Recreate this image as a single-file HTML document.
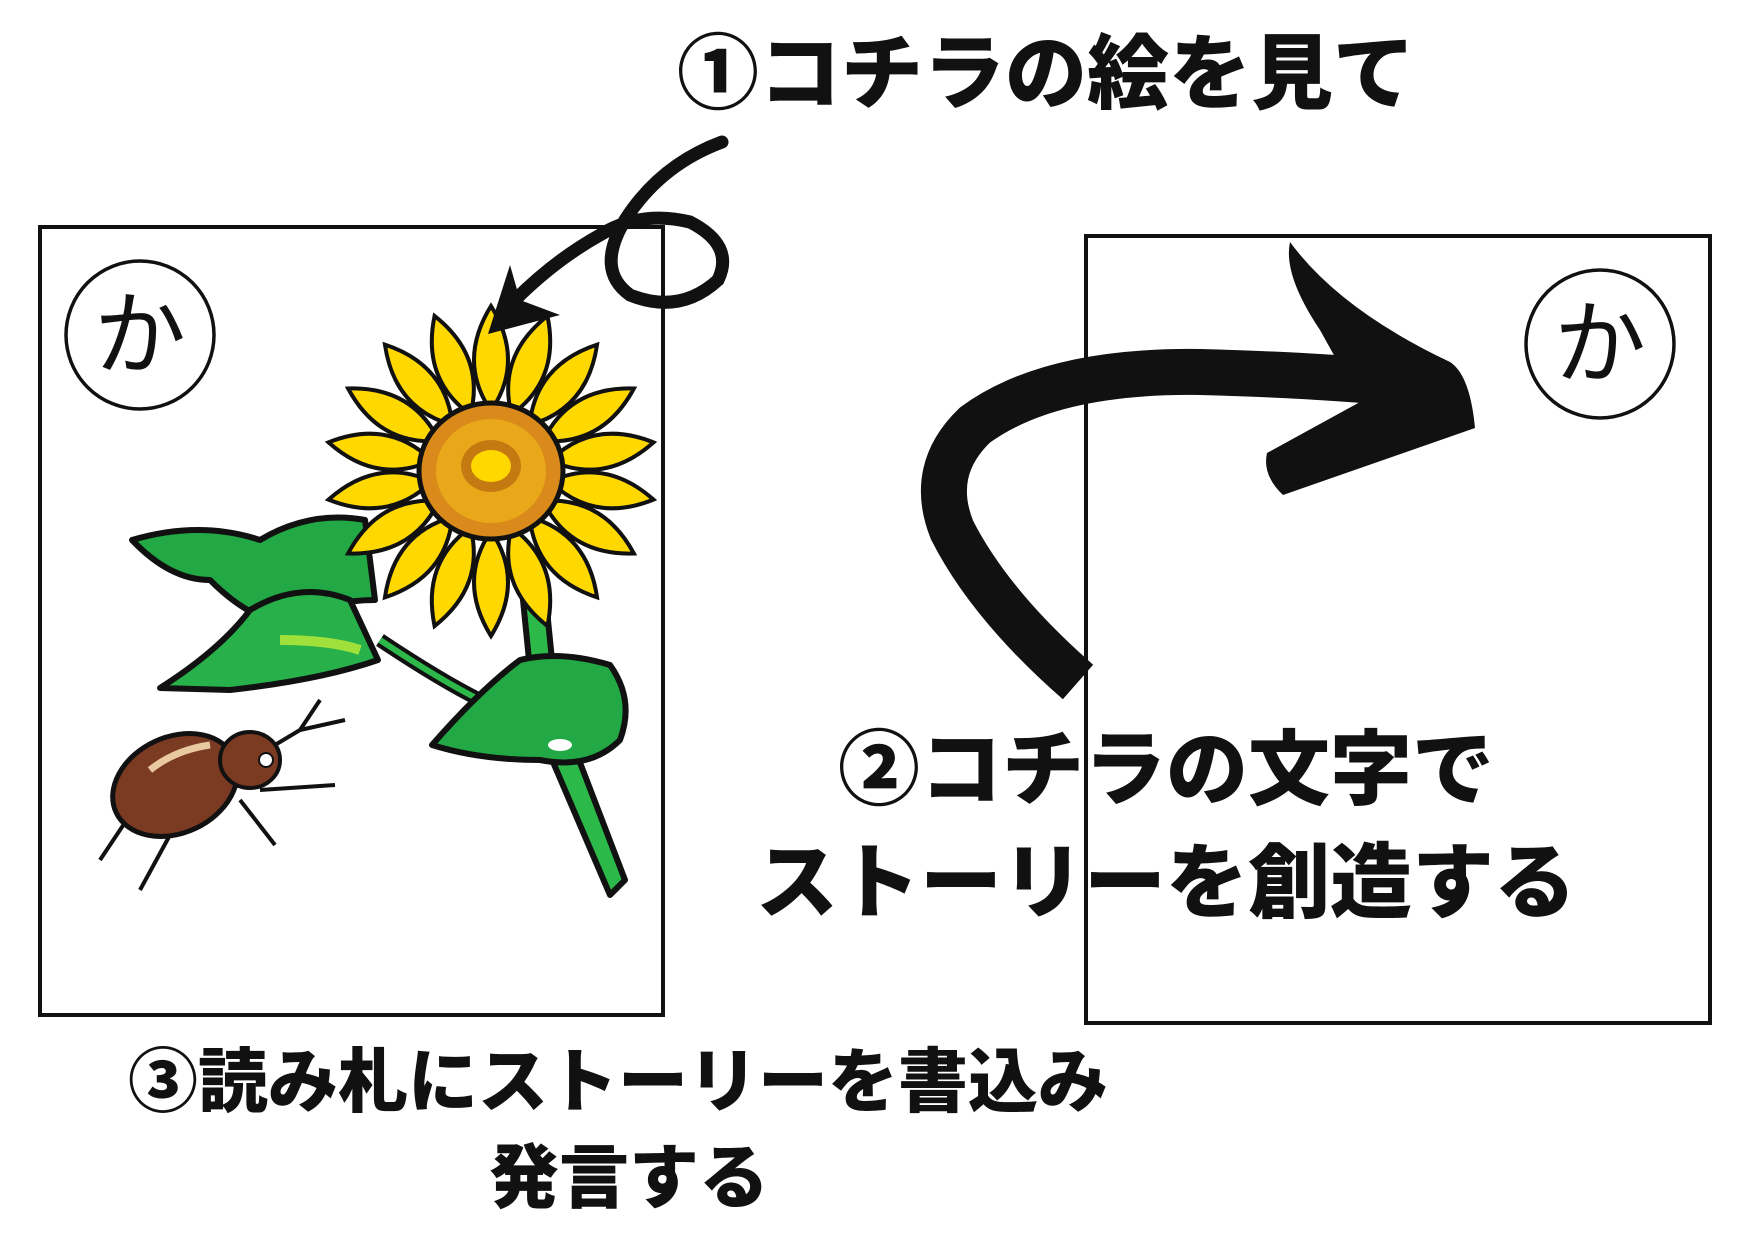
<!DOCTYPE html>
<html><head><meta charset="utf-8"><style>
html,body{margin:0;padding:0;background:#fff}
body{width:1748px;height:1240px;position:relative;overflow:hidden;font-family:"Liberation Sans","Noto Sans CJK JP",sans-serif}
.t{position:absolute;font-weight:900;white-space:nowrap;color:#111;line-height:1;font-family:"Liberation Sans","Noto Sans CJK JP","WenQuanYi Zen Hei",sans-serif}
</style></head><body>
<svg width="1748" height="1240" style="position:absolute;left:0;top:0">
<rect x="40" y="227" width="623" height="788" fill="none" stroke="#111" stroke-width="4"/>
<rect x="1086" y="236" width="624" height="787" fill="none" stroke="#111" stroke-width="4"/>
<circle cx="140" cy="335" r="74" fill="none" stroke="#111" stroke-width="3.5"/>
<circle cx="1600" cy="344" r="74" fill="none" stroke="#111" stroke-width="3.5"/>
<text x="140" y="367" font-size="92" text-anchor="middle" font-family="Liberation Sans, Noto Sans CJK JP, sans-serif" fill="#111">か</text>
<text x="1600" y="376" font-size="92" text-anchor="middle" font-family="Liberation Sans, Noto Sans CJK JP, sans-serif" fill="#111">か</text>
<path d="M522,590 L545,590 L556,700 L625,880 L610,895 L535,720 Z" fill="#2db84a" stroke="#111" stroke-width="6" stroke-linejoin="round"/>
<path d="M380,640 Q440,680 480,700" stroke="#111" stroke-width="14" fill="none"/>
<path d="M380,640 Q440,680 480,700" stroke="#2db84a" stroke-width="6" fill="none"/>
<path d="M132,540 Q200,520 260,540 Q310,510 365,520 L375,600 Q330,600 300,620 Q260,630 210,580 Q170,580 132,540 Z" fill="#22a845" stroke="#111" stroke-width="6" stroke-linejoin="round"/>
<path d="M160,688 Q220,650 250,610 Q300,580 350,600 L378,660 Q320,680 230,690 Z" fill="#28b04a" stroke="#111" stroke-width="6" stroke-linejoin="round"/>
<path d="M280,640 Q330,640 360,650" stroke="#9fe03a" stroke-width="10" fill="none"/>
<path d="M432,745 Q480,690 520,660 Q560,650 610,665 Q635,700 620,740 Q590,770 540,760 Q480,760 432,745 Z" fill="#22a845" stroke="#111" stroke-width="6" stroke-linejoin="round"/>
<ellipse cx="560" cy="745" rx="12" ry="6" fill="#fff"/>
<g transform="translate(491,471)">
<g fill="#ffd800" stroke="#111" stroke-width="4">
<path id="p" d="M0,-60 Q34,-110 0,-165 Q-34,-110 0,-60 Z"/>
<use href="#p" transform="rotate(20)"/><use href="#p" transform="rotate(40)"/><use href="#p" transform="rotate(60)"/>
<use href="#p" transform="rotate(80)"/><use href="#p" transform="rotate(100)"/><use href="#p" transform="rotate(120)"/>
<use href="#p" transform="rotate(140)"/><use href="#p" transform="rotate(160)"/><use href="#p" transform="rotate(180)"/>
<use href="#p" transform="rotate(200)"/><use href="#p" transform="rotate(220)"/><use href="#p" transform="rotate(240)"/>
<use href="#p" transform="rotate(260)"/><use href="#p" transform="rotate(280)"/><use href="#p" transform="rotate(300)"/>
<use href="#p" transform="rotate(320)"/><use href="#p" transform="rotate(340)"/>
</g>
<ellipse cx="0" cy="0" rx="72" ry="68" fill="#d98a1a" stroke="#111" stroke-width="5"/>
<ellipse cx="0" cy="0" rx="55" ry="52" fill="#e8a81a"/>
<ellipse cx="0" cy="-5" rx="30" ry="26" fill="#c47a10"/>
<ellipse cx="0" cy="-5" rx="20" ry="16" fill="#ffd800"/>
</g>
<g stroke="#111" stroke-width="4" fill="none">
<path d="M130,815 L100,860 M170,835 L140,890 M240,800 L275,845 M260,790 L335,785 M250,760 L300,730 L320,700 M300,730 L345,720"/>
</g>
<ellipse cx="175" cy="785" rx="65" ry="48" fill="#7a3b22" stroke="#111" stroke-width="5" transform="rotate(-25 175 785)"/>
<path d="M150,770 Q175,750 210,745" stroke="#e8c9a0" stroke-width="7" fill="none"/>
<ellipse cx="250" cy="760" rx="30" ry="28" fill="#7a3b22" stroke="#111" stroke-width="4"/>
<circle cx="266" cy="760" r="7" fill="#fff" stroke="#111" stroke-width="2"/>
<path d="M722,142 Q660,165 625,220 Q595,270 630,295 Q680,315 718,280 Q735,245 690,222 Q640,210 600,235 Q555,260 515,300" stroke="#111" stroke-width="13" fill="none" stroke-linecap="round"/>
<path d="M488,334 L510,265 L520,300 L560,315 Z" fill="#111"/>
<path d="M1078,682 Q990,605 952,530 Q928,470 975,425 Q1050,370 1200,372 Q1320,375 1420,385" stroke="#111" stroke-width="46" fill="none"/>
<path d="M1290,242 Q1283,275 1320,330 L1360,402 L1267,453 Q1262,475 1283,495 L1475,428 Q1470,375 1450,362 Q1340,310 1290,242 Z" fill="#111"/>
</svg>
<div class="t" style="left:677px;top:34px;font-size:82px">①コチラの絵を見て</div>
<div class="t" style="left:838px;top:730px;font-size:82px">②コチラの文字で</div>
<div class="t" style="left:756px;top:843px;font-size:82px">ストーリーを創造する</div>
<div class="t" style="left:128px;top:1047px;font-size:70px">③読み札にストーリーを書込み</div>
<div class="t" style="left:489px;top:1143px;font-size:70px">発言する</div>
</body></html>
